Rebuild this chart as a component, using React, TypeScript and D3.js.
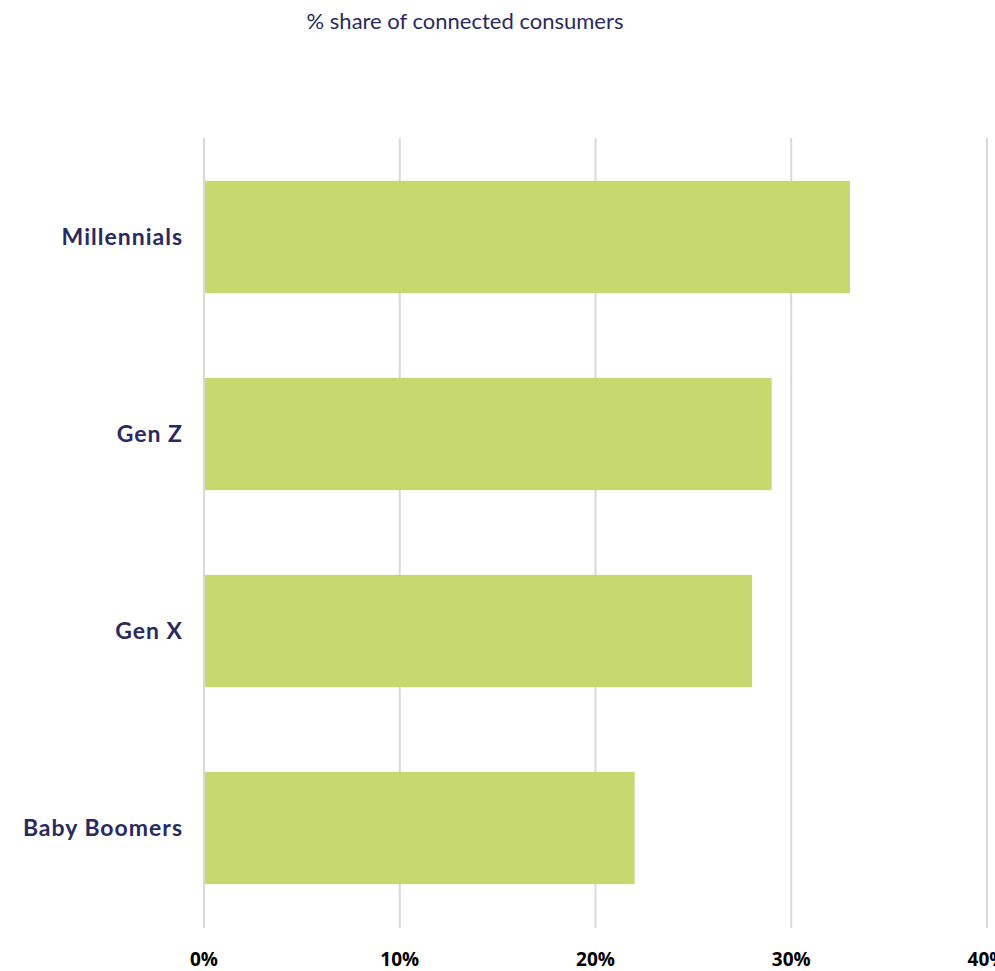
import React from "react";
import * as d3 from "d3";

const categories = ["Millennials", "Gen Z", "Gen X", "Baby Boomers"];
const values = [33, 29, 28, 22];
const ticks = [0, 10, 20, 30, 40];
const title = "% share of connected consumers";

export default function App() {
  const W = 995, H = 971;
  const x = d3.scaleLinear().domain([0, 40]).range([204, 987]);
  const y = d3.scaleBand<string>().domain(categories).range([138.5, 926.5]).paddingInner(0.43).paddingOuter(0.215);
  const navy = "#2b2a5e";
  return (
    <svg width={W} height={H} style={{ position: "absolute", left: 0, top: 0 }}>
      <rect width={W} height={H} fill="#fff" />
      <text x={465} y={29} textAnchor="middle" fontFamily="Lato, 'Open Sans', sans-serif" fontSize={22} fill={navy}>{title}</text>
      {ticks.map((t) => (
        <line key={"g" + t} x1={x(t)} x2={x(t)} y1={138} y2={928} stroke="#d9d9d9" strokeWidth={2} />
      ))}
      {categories.map((c, i) => (
        <rect key={c} x={x(0) + 1} y={y(c)} width={x(values[i]) - x(0) - 1} height={y.bandwidth()} fill="#c6d86e" />
      ))}
      {categories.map((c) => (
        <text key={"l" + c} x={183} y={(y(c) as number) + y.bandwidth() / 2} dy="0.35em" textAnchor="end" fontFamily="Lato, sans-serif" fontWeight={700} fontSize={23} letterSpacing={1} fill={navy}>{c}</text>
      ))}
      {ticks.map((t) => (
        <text key={"t" + t} x={x(t)} y={966} textAnchor="middle" fontFamily="'Open Sans', sans-serif" fontWeight={700} fontSize={19} fill="#000">{t + "%"}</text>
      ))}
    </svg>
  );
}
